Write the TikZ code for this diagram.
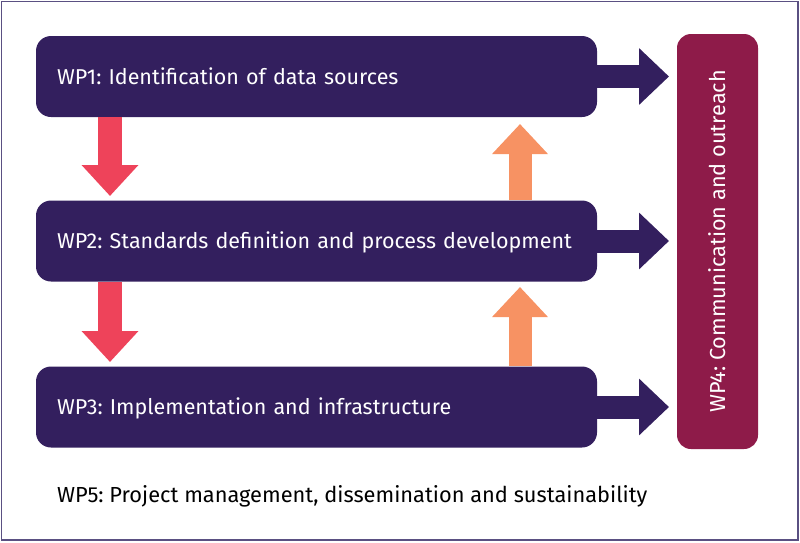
\documentclass[tikz,border=0pt]{standalone}
\usepackage{fontspec}
\setmainfont{Fira Sans}
\frenchspacing
\usetikzlibrary{arrows.meta}
\definecolor{wpdark}{HTML}{331F5E}
\definecolor{wpwine}{HTML}{8E1B49}
\definecolor{wpred}{HTML}{EE435A}
\definecolor{wporange}{HTML}{F79263}
\definecolor{wpframe}{HTML}{5A5082}
\tikzset{
  wpbox/.style={rectangle, rounded corners=15pt, fill=wpdark, text=white,
    minimum width=561pt, minimum height=81pt, text width=519pt, align=left,
    inner xsep=21pt, inner ysep=0pt, text height=15pt, text depth=0pt,
    font=\fontsize{21.5}{24}\selectfont},
  sidebox/.style={rectangle, rounded corners=14pt, fill=wpwine, text=white,
    minimum width=415pt, minimum height=81pt, inner sep=0pt,
    text height=15pt, text depth=0pt,
    font=\fontsize{21.7}{24}\selectfont},
  outarrow/.style={draw=wpdark, line width=23pt,
    -{Triangle[width=55pt, length=30pt]}},
  downarrow/.style={draw=wpred, line width=24pt,
    -{Triangle[width=55pt, length=31pt]}},
  uparrow/.style={draw=wporange, line width=23pt,
    -{Triangle[width=54pt, length=30pt]}},
}
\begin{document}
\begin{tikzpicture}[x=1pt, y=-1pt]
  \useasboundingbox (0,0) rectangle (800,542);
  \draw[wpframe, line width=1.4pt] (1.5,1.5) rectangle (798,540);

  % work package boxes
  \node[wpbox] (wp1) at (316.5,76.5) {WP1: Identification of data sources};
  \node[wpbox] (wp2) at (316.5,241) {WP2: Standards definition and process development};
  \node[wpbox] (wp3) at (316.5,407) {WP3: Implementation and infrastructure};
  \node[sidebox, rotate=90] (wp4) at (717.5,241.5) {WP4: Communication and outreach};
  \node[anchor=base west, inner sep=0pt, font=\fontsize{21.8}{25}\selectfont]
    (wp5) at (57,502) {WP5: Project management, dissemination and sustainability};

  % arrow end points
  \coordinate (t1) at (669,76.5);
  \coordinate (t2) at (669,241);
  \coordinate (t3) at (669,407);
  \coordinate (d1s) at (110,117);
  \coordinate (d1e) at (110,196);
  \coordinate (d2s) at (110,282);
  \coordinate (d2e) at (110,362);
  \coordinate (u1s) at (520,200);
  \coordinate (u1e) at (520,124);
  \coordinate (u2s) at (520,366);
  \coordinate (u2e) at (520,287);

  % flows into WP4
  \draw[outarrow] (wp1.east) -- (t1);
  \draw[outarrow] (wp2.east) -- (t2);
  \draw[outarrow] (wp3.east) -- (t3);

  % downward and feedback flows
  \draw[downarrow] (d1s) -- (d1e);
  \draw[downarrow] (d2s) -- (d2e);
  \draw[uparrow] (u1s) -- (u1e);
  \draw[uparrow] (u2s) -- (u2e);
\end{tikzpicture}
\end{document}
